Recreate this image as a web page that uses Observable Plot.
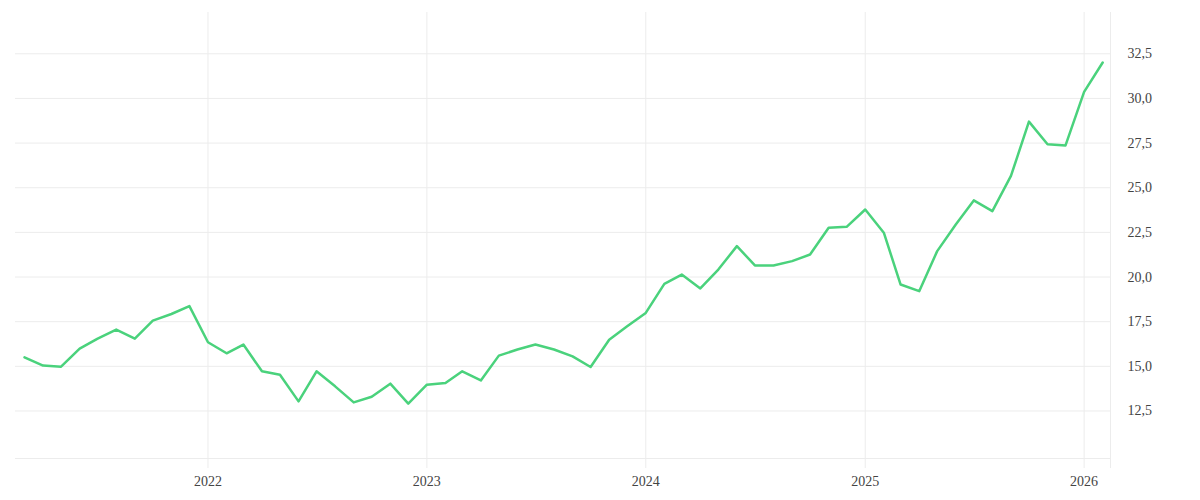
<!DOCTYPE html>
<html>
<head>
<meta charset="utf-8">
<script src="https://cdn.jsdelivr.net/npm/d3@7"></script>
<script src="https://cdn.jsdelivr.net/npm/@observablehq/plot@0.6"></script>
<style>
  html, body { margin: 0; padding: 0; background: #fff; }
  #chart svg { display: block; }
</style>
</head>
<body>
<div id="chart"></div>
<script>
const months = [
  "2021-03","2021-04","2021-05","2021-06","2021-07","2021-08","2021-09","2021-10","2021-11","2021-12",
  "2022-01","2022-02","2022-03","2022-04","2022-05","2022-06","2022-07","2022-08","2022-09","2022-10","2022-11","2022-12",
  "2023-01","2023-02","2023-03","2023-04","2023-05","2023-06","2023-07","2023-08","2023-09","2023-10","2023-11","2023-12",
  "2024-01","2024-02","2024-03","2024-04","2024-05","2024-06","2024-07","2024-08","2024-09","2024-10","2024-11","2024-12",
  "2025-01","2025-02","2025-03","2025-04","2025-05","2025-06","2025-07","2025-08","2025-09","2025-10","2025-11","2025-12",
  "2026-01","2026-02"
];
const values = [
  15.50, 15.04, 14.98, 15.99, 16.55, 17.06, 16.55, 17.56, 17.93, 18.37,
  16.35, 15.73, 16.22, 14.72, 14.53, 13.04, 14.72, 13.88, 12.98, 13.30, 14.03, 12.91,
  13.97, 14.07, 14.72, 14.21, 15.60, 15.94, 16.22, 15.94, 15.56, 14.96, 16.49, 17.24,
  17.99, 19.62, 20.14, 19.36, 20.42, 21.73, 20.65, 20.65, 20.89, 21.26, 22.76, 22.81,
  23.78, 22.48, 19.58, 19.21, 21.45, 22.94, 24.29, 23.69, 25.66, 28.70, 27.43, 27.37,
  30.37, 32.01
];
const yTicks = [12.5, 15, 17.5, 20, 22.5, 25, 27.5, 30, 32.5];
const xTicks = ["2022-01-01","2023-01-01","2024-01-01","2025-01-01","2026-01-01"];
const xDomain = ["2021-02-14", "2026-02-14"];
const yDomain = [9.84, 34.81];

const parse = d3.utcParse("%Y-%m");
const data = months.map((m, i) => ({date: parse(m), value: values[i]}));
const xd = xDomain.map(s => new Date(s + "T00:00:00Z"));
const xt = xTicks.map(s => new Date(s + "T00:00:00Z"));

const fmt = d3.formatLocale({decimal: ",", thousands: ".", grouping: [3], currency: ["", " €"]}).format(".1f");
const grid = "#ececec";

const chart = Plot.plot({
  width: 1200,
  height: 500,
  marginLeft: 15,
  marginRight: 90,
  marginTop: 12,
  marginBottom: 32,
  style: {fontFamily: "'Liberation Serif', serif", fontSize: "14px", color: "#444", background: "#fff"},
  x: {type: "utc", domain: xd},
  y: {domain: yDomain, insetBottom: 10},
  marks: [
    Plot.gridX(xt, {stroke: grid, strokeOpacity: 1}),
    Plot.gridY(yTicks, {stroke: grid, strokeOpacity: 1}),
    Plot.ruleY([yDomain[0]], {stroke: grid}),
    Plot.ruleX([xd[1]], {stroke: grid}),
    Plot.axisX(xt, {tickSize: 0, tickPadding: 8, tickFormat: d3.utcFormat("%Y"), label: null}),
    Plot.axisY(yTicks, {anchor: "right", tickSize: 0, tickPadding: 17, tickFormat: fmt, label: null, textAnchor: "start"}),
    Plot.line(data, {x: "date", y: "value", stroke: "#4ad27c", strokeWidth: 2.5, curve: "linear"})
  ]
});
document.getElementById("chart").appendChild(chart);
</script>
</body>
</html>
